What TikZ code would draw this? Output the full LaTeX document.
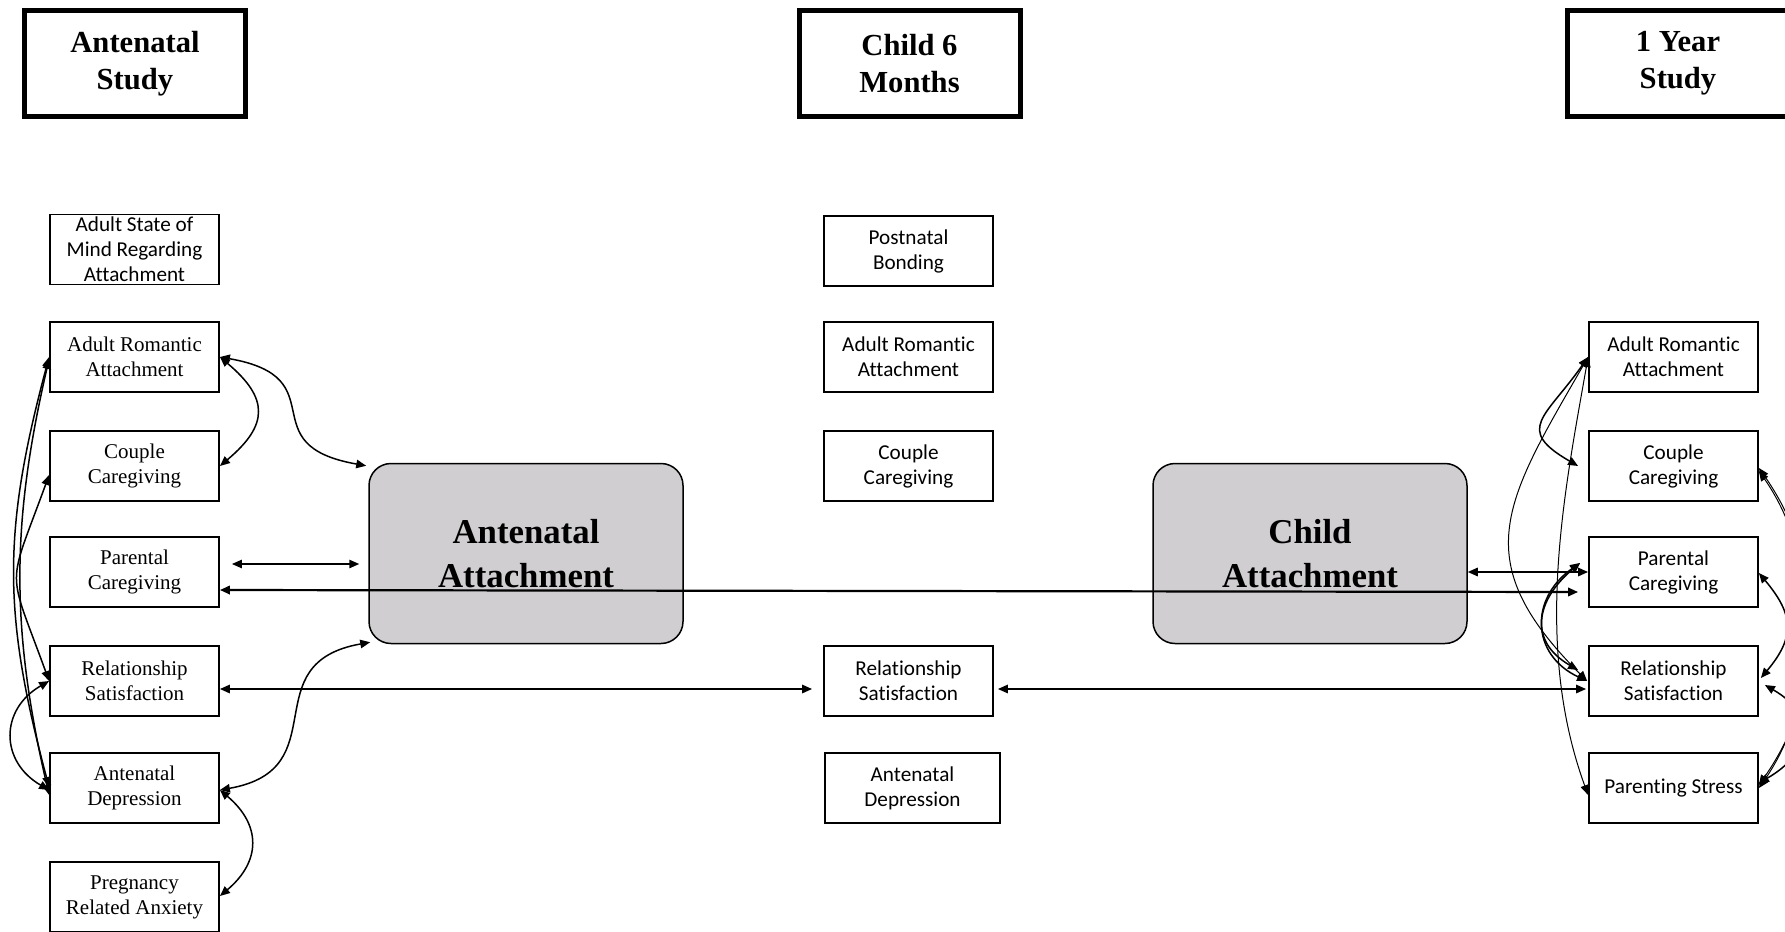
\documentclass[tikz,border=0pt]{standalone}
\usepackage{fontspec}
\setmainfont{Liberation Serif}
\setsansfont{Carlito}[Ligatures=NoCommon]
\usetikzlibrary{arrows.meta}
\definecolor{attgray}{RGB}{208,206,209}
\tikzset{var/.style={shape=rectangle, draw, line width=0.9pt, minimum width=84.5pt,
  minimum height=35pt, inner sep=0, align=center, font=\sffamily\fontsize{10.6}{12.5}\selectfont},
  rmtext/.style={font=\rmfamily\fontsize{10.5}{12.5}\selectfont},
  wave/.style={draw, line width=2.5pt, minimum width=110.5pt, minimum height=53pt,
  inner sep=0, align=center, font=\bfseries\fontsize{15.3}{18.5}\selectfont},
  latent/.style={draw, line width=0.75pt, rounded corners=11pt, fill=attgray,
  minimum width=157pt, minimum height=90pt, inner sep=0, align=center,
  font=\bfseries\fontsize{17.4}{22}\selectfont}}
\begin{document}
\begin{tikzpicture}[x=0.5pt, y=-0.5pt, >={Triangle[length=5pt,width=4.2pt]},
    link/.style={<->, line width=0.75pt}]
    \useasboundingbox (0,0) rectangle (1785,932);
    % study waves
    \foreach \xx/\lbl [count=\j] in {135/{Antenatal\\Study}, 909.5/{Child 6\\Months}, 1678/{1 Year\\Study}}
        \node [wave] at (\xx,63.5) (w-\j) {\lbl};
    % antenatal measures
    \node [var] at (134.5,249.5) (a-1) {Adult State of\\Mind Regarding\\Attachment};
    \foreach \yy/\lbl [count=\i from 2] in {357/{Adult Romantic\\Attachment}, 466/{Couple\\Caregiving},
        572/{Parental\\Caregiving}, 681/{Relationship\\Satisfaction}, 788/{Antenatal\\Depression},
        897/{Pregnancy\\Related Anxiety}}
        \node [var, rmtext] at (134.5,\yy) (a-\i) {\lbl};
    % 6 months measures
    \foreach \yy/\lbl [count=\i] in {251/{Postnatal\\Bonding}, 357/{Adult Romantic\\Attachment},
        466/{Couple\\Caregiving}, 681/{Relationship\\Satisfaction}}
        \node [var] at (908.5,\yy) (c-\i) {\lbl};
    \node [var, minimum width=87.5pt] at (912.5,788) (c-5) {Antenatal\\Depression};
    % 1 year measures
    \foreach \yy/\lbl [count=\i] in {357/{Adult Romantic\\Attachment}, 466/{Couple\\Caregiving},
        572/{Parental\\Caregiving}, 681/{Relationship\\Satisfaction}, 788/{Parenting Stress}}
        \node [var] at (1673.5,\yy) (y-\i) {\lbl};
    % outcomes
    \node [latent] at (526,553.5) (aa) {Antenatal\\Attachment};
    \node [latent] at (1310,553.5) (ca) {Child\\Attachment};

    % antenatal links
    \draw [link] (a-2.east) to[out=-40, in=40, distance=32pt] (a-3.east);
    \draw [link] (a-2.east) to[out=-10, in=170, distance=60pt] ([shift={(-1pt,-1.5pt)}]aa.north west);
    \coordinate (pc-l) at ([shift={(6pt,4pt)}]a-4.east);
    \draw [link] (pc-l) -- ([xshift=-4.5pt]pc-l -| aa.west);
    \draw [link] ([yshift=-1pt]a-6.east) to[out=10, in=190, distance=60pt] ([shift={(1pt,1pt)}]aa.south west);
    \draw [link] ([yshift=-1pt]a-6.east) to[out=-40, in=40, distance=27pt] ([yshift=0.5pt]a-7.east);
    \draw [link] (a-2.west) to[out=-105, in=105, distance=90pt] ([yshift=0.5pt]a-6.west);
    \draw [link] ([yshift=-1pt]a-2.west) to[out=-103, in=103, distance=85pt] ([yshift=-3.5pt]a-6.west);
    \draw [link] ([yshift=-4.5pt]a-3.west) to[out=-110, in=110, distance=62pt] (a-5.west);
    \draw [link] (a-5.west) to[out=210, in=150, distance=28.5pt] ([yshift=-1pt]a-6.west);
    % across waves
    \draw [link, line width=1.1pt] ([yshift=-9pt]a-4.east) -- ([shift={(-5pt,-10pt)}]y-3.west);
    \draw [link, line width=0.9pt] ([yshift=-4pt]a-5.east) -- ([shift={(-5.5pt,-4pt)}]c-4.west);
    \draw [link, line width=0.9pt] ([shift={(2pt,-4pt)}]c-4.east) -- ([shift={(-1pt,-4pt)}]y-4.west);
    % 1 year links
    \draw [link, line width=0.9pt] (ca.east |- y-3.west) -- (y-3.west);
    \draw [link] (y-1.west) to[out=235, in=150, distance=37pt] ([xshift=-5pt]y-2.west);
    \draw [link, line width=0.5pt] (y-1.west) to[out=240, in=135, distance=85pt] ([xshift=-0.5pt]y-4.west);
    \draw [link, line width=0.5pt] (y-1.west) to[out=260, in=110, out distance=70pt, in distance=80pt] ([yshift=-3.5pt]y-5.west);
    \draw [link] ([shift={(-4pt,4.5pt)}]y-3.west) to[out=220, in=150, distance=29pt] ([shift={(-5pt,5.5pt)}]y-4.west);
    \draw [link] ([shift={(-4pt,4.5pt)}]y-3.west) to[out=215, in=155, distance=31pt] ([xshift=-0.5pt]y-4.west);
    \draw [link, line width=0.5pt] ([yshift=-1pt]y-2.east) to[out=-55, in=55, distance=60pt] ([yshift=1.5pt]y-5.east);
    \draw [link, line width=0.5pt] ([yshift=-2.5pt]y-2.east) to[out=-55, in=55, distance=55pt] (y-5.east);
    \draw [link] ([yshift=-0.5pt]y-3.east) to[out=-50, in=50, distance=27pt] ([shift={(1pt,1.5pt)}]y-4.east);
    \draw [link] ([shift={(3pt,-2pt)}]y-4.east) to[out=-30, in=30, distance=30pt] ([yshift=2.5pt]y-5.east);
\end{tikzpicture}
\end{document}
